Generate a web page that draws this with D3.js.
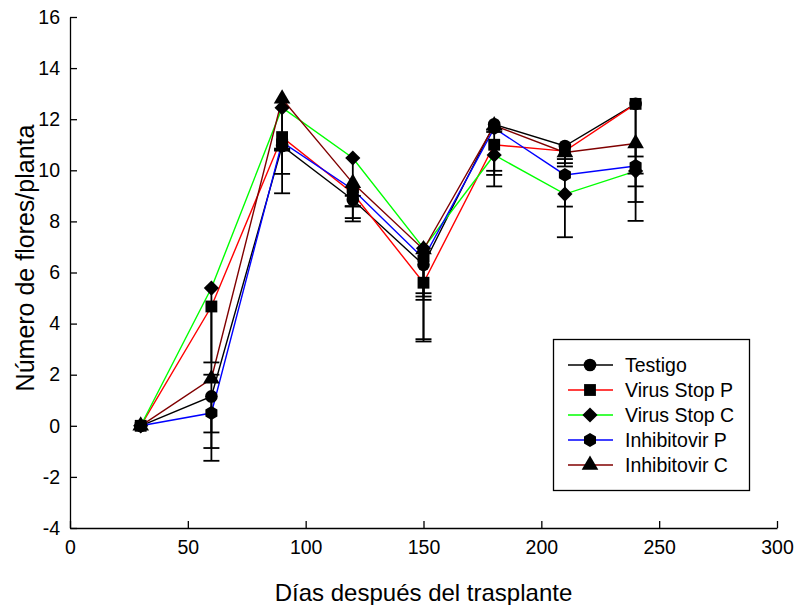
<!DOCTYPE html>
<html>
<head>
<meta charset="utf-8">
<script src="https://cdn.jsdelivr.net/npm/d3@7"></script>
<style>
  html, body { margin: 0; padding: 0; background: #fff; }
  svg { display: block; font-family: "Liberation Sans", Arial, sans-serif; }
</style>
</head>
<body>
<svg id="chart" width="796" height="605"></svg>
<script>
// Días después del trasplante
const days = [30, 60, 90, 120, 150, 180, 210, 240];

// Mean number of flowers per plant for each treatment
const testigo      = [0, 1.15, 10.95, 8.85, 6.30, 11.80, 10.95, 12.60];
const virusStopP   = [0, 4.67, 11.30, 9.10, 5.60, 11.00, 10.75, 12.60];
const virusStopC   = [0, 5.39, 12.45, 10.48, 6.95, 10.60, 9.07, 9.97];
const inhibitovirP = [0, 0.50, 11.10, 9.25, 6.55, 11.65, 9.82, 10.17];
const inhibitovirC = [0, 1.84, 12.80, 9.50, 6.90, 11.75, 10.70, 11.05];

// Lower error (drawn downward from the mean)
const errTestigo      = [0, 2.02, 0.15, 0.27, 2.91, 0.20, 0.51, 3.23];
const errVirusStopP   = [0, 2.67, 0.53, 0.50, 2.30, 1.18, 0.47, 3.84];
const errVirusStopC   = [0, 2.91, 2.59, 2.48, 1.89, 1.23, 1.69, 1.95];
const errInhibitovirP = [0, 1.87, 0.25, 0.25, 1.36, 1.67, 1.24, 0.30];
const errInhibitovirC = [0, 2.10, 3.70, 1.37, 1.97, 0.25, 0.55, 0.51];

const seriesNames  = ["Testigo", "Virus Stop P", "Virus Stop C", "Inhibitovir P", "Inhibitovir C"];
const seriesColors = ["#000000", "#ff0000", "#00ff00", "#0000ff", "#800000"];

const xTicks = [0, 50, 100, 150, 200, 250, 300];
const yTicks = [-4, -2, 0, 2, 4, 6, 8, 10, 12, 14, 16];

// Hexagon symbol (pointy top) for d3.symbol
const symbolHexagon = {
  draw(context, size) {
    const r = Math.sqrt(size / (1.5 * Math.sqrt(3)));
    for (let i = 0; i < 6; i++) {
      const a = Math.PI / 2 + i * Math.PI / 3;
      const px = r * Math.cos(a), py = -r * Math.sin(a);
      if (i === 0) context.moveTo(px, py); else context.lineTo(px, py);
    }
    context.closePath();
  }
};
// Square diamond (square turned 45°)
const symbolRhombus = {
  draw(context, size) {
    const r = Math.sqrt(size / 2);
    context.moveTo(0, -r);
    context.lineTo(r, 0);
    context.lineTo(0, r);
    context.lineTo(-r, 0);
    context.closePath();
  }
};
const seriesSymbols = [
  d3.symbol(d3.symbolCircle, 125),
  d3.symbol(d3.symbolSquare, 140),
  d3.symbol(symbolRhombus, 115),
  d3.symbol(symbolHexagon, 125),
  d3.symbol(d3.symbolTriangle, 120)
];

const means = [testigo, virusStopP, virusStopC, inhibitovirP, inhibitovirC];
const errs  = [errTestigo, errVirusStopP, errVirusStopC, errInhibitovirP, errInhibitovirC];

const series = seriesNames.map((name, i) => ({
  name,
  color: seriesColors[i],
  symbol: seriesSymbols[i],
  points: days.map((d, j) => ({ x: d, y: means[i][j], e: errs[i][j] }))
}));

const svg = d3.select("#chart");
const x = d3.scaleLinear().domain([0, 300]).range([70, 777]);
const y = d3.scaleLinear().domain([-4, 16]).range([528, 17]);

// Axes with inward ticks
const xAxis = svg.append("g")
  .attr("transform", `translate(0,${y(-4)})`)
  .call(d3.axisBottom(x).tickValues(xTicks).tickFormat(d => String(d))
    .tickSizeInner(-7).tickSizeOuter(0).tickPadding(12));
const yAxis = svg.append("g")
  .attr("transform", `translate(${x(0)},0)`)
  .call(d3.axisLeft(y).tickValues(yTicks).tickFormat(d => String(d))
    .tickSizeInner(-7).tickSizeOuter(0).tickPadding(10));

[xAxis, yAxis].forEach(g => {
  g.selectAll("path.domain").attr("stroke", "#000").attr("stroke-width", 1.3);
  g.selectAll(".tick line").attr("stroke", "#000").attr("stroke-width", 1.3);
  g.selectAll(".tick text").attr("fill", "#000")
    .style("font-size", "19.5px").style("font-family", "'Liberation Sans', Arial, sans-serif");
});

// Axis titles
svg.append("text")
  .attr("x", (x(0) + x(300)) / 2).attr("y", 601)
  .attr("text-anchor", "middle")
  .style("font-size", "24px")
  .text("Días después del trasplante");
svg.append("text")
  .attr("transform", "translate(34,258) rotate(-90)")
  .attr("text-anchor", "middle")
  .style("font-size", "25px")
  .text("Número de flores/planta");

// Connecting lines
const line = d3.line().x(d => x(d.x)).y(d => y(d.y));
svg.append("g").selectAll("path")
  .data(series).join("path")
  .attr("d", s => line(s.points))
  .attr("fill", "none")
  .attr("stroke", s => s.color)
  .attr("stroke-width", 1.4);

// Error bars (lower side)
const capHalf = 8;
const eb = svg.append("g").attr("stroke", "#000").attr("stroke-width", 1.8);
series.forEach(s => {
  s.points.filter(p => p.e > 0).forEach(p => {
    eb.append("line")
      .attr("x1", x(p.x)).attr("x2", x(p.x))
      .attr("y1", y(p.y)).attr("y2", y(p.y - p.e));
    eb.append("line")
      .attr("x1", x(p.x) - capHalf).attr("x2", x(p.x) + capHalf)
      .attr("y1", y(p.y - p.e)).attr("y2", y(p.y - p.e));
  });
});

// Markers
series.forEach(s => {
  svg.append("g").selectAll("path")
    .data(s.points).join("path")
    .attr("transform", p => `translate(${x(p.x)},${y(p.y)})`)
    .attr("d", s.symbol())
    .attr("fill", "#000");
});

// Legend
const lg = svg.append("g");
lg.append("rect")
  .attr("x", 553.5).attr("y", 339.5).attr("width", 196).attr("height", 151)
  .attr("fill", "#fff").attr("stroke", "#000").attr("stroke-width", 1.3);
series.forEach((s, i) => {
  const cy = 365 + i * 25;
  lg.append("line")
    .attr("x1", 568).attr("x2", 613).attr("y1", cy).attr("y2", cy)
    .attr("stroke", s.color).attr("stroke-width", 1.4);
  lg.append("path")
    .attr("transform", `translate(590,${cy})`)
    .attr("d", s.symbol())
    .attr("fill", "#000");
  lg.append("text")
    .attr("x", 625).attr("y", cy).attr("dy", "0.36em")
    .style("font-size", "19.5px")
    .text(s.name);
});
</script>
</body>
</html>
